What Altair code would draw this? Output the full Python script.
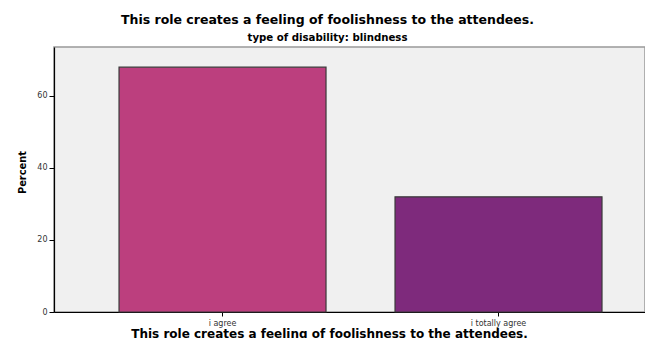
import altair as alt
import pandas as pd

categories = ["i agree", "i totally agree"]
percents = [68.0, 32.0]
colors = ["#BC3F7E", "#7E2A7C"]

title_text = "This role creates a feeling of foolishness to the attendees."
subtitle_text = "type of disability: blindness"

df = pd.DataFrame({"answer": categories, "percent": percents})

chart = (
    alt.Chart(df)
    .mark_bar(stroke="#3a3a3a", strokeWidth=1.2)
    .encode(
        x=alt.X(
            "answer:N",
            sort=categories,
            scale=alt.Scale(paddingInner=0.25, paddingOuter=0.1957, align=0.602),
            axis=alt.Axis(
                title=title_text,
                titleFont="DejaVu Sans",
                titleFontSize=12,
                titleFontWeight="bold",
                titleColor="#000",
                titleBaseline="top",
                titleX=275,
                titleY=16,
                titleAnchor="start",
                titleAlign="center",
                labelAngle=0,
                labelFont="DejaVu Sans",
                labelFontSize=8,
                labelColor="#333",
                labelPadding=3,
                tickSize=4,
                tickColor="#000",
                domainColor="#000",
                domainWidth=1.2,
            ),
        ),
        y=alt.Y(
            "percent:Q",
            scale=alt.Scale(domain=[0, 73.6], nice=False),
            axis=alt.Axis(
                values=[0, 20, 40, 60],
                title="Percent",
                titleFont="DejaVu Sans Condensed",
                titleFontSize=11,
                titleFontWeight="bold",
                titleColor="#000",
                titleX=-32,
                titleY=125,
                titleAlign="center",
                titleBaseline="middle",
                labelFont="DejaVu Sans",
                labelFontSize=8,
                labelColor="#333",
                labelPadding=2,
                tickSize=5,
                tickColor="#000",
                domainColor="#000",
                domainWidth=1.2,
                grid=False,
            ),
        ),
        color=alt.Color(
            "answer:N",
            sort=categories,
            scale=alt.Scale(domain=categories, range=colors),
            legend=None,
        ),
    )
    .properties(
        width=591,
        height=265,
        background="white",
        autosize=alt.AutoSizeParams(type="none"),
        padding={"left": 46, "top": 39, "right": 0, "bottom": 26},
        title=alt.TitleParams(
            text=title_text,
            subtitle=subtitle_text,
            anchor="middle",
            frame="group",
            dx=-22,
            offset=4,
            font="DejaVu Sans",
            fontSize=12.5,
            fontWeight="bold",
            color="#000",
            subtitleFont="DejaVu Sans",
            subtitleFontSize=10.2,
            subtitleFontWeight="bold",
            subtitleColor="#000",
            subtitlePadding=6,
        ),
    )
    .configure_view(fill="#F0F0F0", stroke="#999999", strokeWidth=1.5)
)

chart.save("out.html", embed_options={"renderer": "svg", "actions": False})
